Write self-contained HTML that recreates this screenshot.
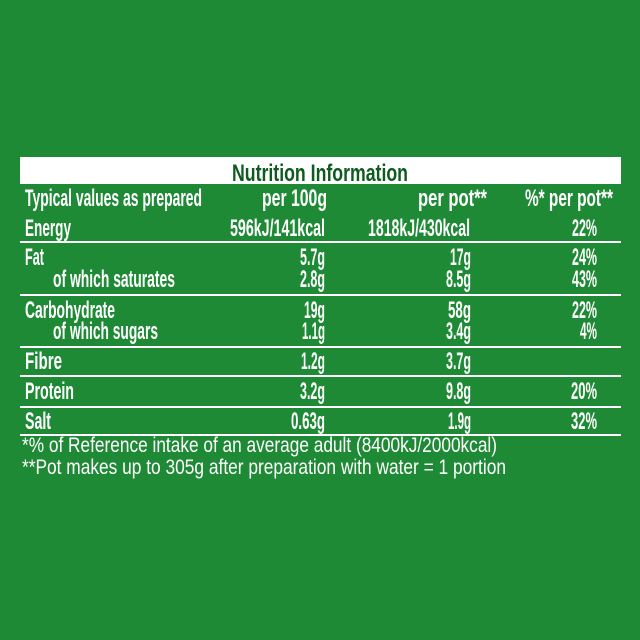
<!DOCTYPE html>
<html><head><meta charset="utf-8"><style>
html,body{margin:0;padding:0;background:#1f8a36;}
svg{display:block}
text{font-family:"Liberation Sans",sans-serif;fill:#fff;font-weight:bold;font-size:24px}
.n{font-weight:normal;font-size:21px}
</style></head><body>
<svg width="640" height="640" viewBox="0 0 640 640">
<rect width="640" height="640" fill="#1f8a36"/>
<rect x="20" y="157" width="601" height="27" fill="#fff"/>
<text x="232" y="181" textLength="176" lengthAdjust="spacingAndGlyphs" style="fill:#0f5a20">Nutrition Information</text>
<g fill="#fff">
<rect x="20" y="241" width="601" height="2"/>
<rect x="20" y="294" width="601" height="2"/>
<rect x="20" y="346" width="601" height="2"/>
<rect x="20" y="375" width="601" height="2"/>
<rect x="20" y="406" width="601" height="2"/>
<rect x="20" y="434" width="601" height="2"/>
</g>
<text x="25" y="206" textLength="177" lengthAdjust="spacingAndGlyphs">Typical values as prepared</text>
<text x="262" y="206" textLength="65" lengthAdjust="spacingAndGlyphs">per 100g</text>
<text x="418" y="206" textLength="69" lengthAdjust="spacingAndGlyphs">per pot**</text>
<text x="525" y="206" textLength="88" lengthAdjust="spacingAndGlyphs">%* per pot**</text>

<text x="25" y="236" textLength="46" lengthAdjust="spacingAndGlyphs">Energy</text>
<text x="230" y="236" textLength="95" lengthAdjust="spacingAndGlyphs">596kJ/141kcal</text>
<text x="368" y="236" textLength="102" lengthAdjust="spacingAndGlyphs">1818kJ/430kcal</text>
<text x="572" y="236" textLength="25" lengthAdjust="spacingAndGlyphs">22%</text>

<text x="25" y="265" textLength="19" lengthAdjust="spacingAndGlyphs">Fat</text>
<text x="300" y="265" textLength="25" lengthAdjust="spacingAndGlyphs">5.7g</text>
<text x="450" y="265" textLength="21" lengthAdjust="spacingAndGlyphs">17g</text>
<text x="572" y="265" textLength="25" lengthAdjust="spacingAndGlyphs">24%</text>
<text x="53" y="287" textLength="122" lengthAdjust="spacingAndGlyphs">of which saturates</text>
<text x="300" y="287" textLength="25" lengthAdjust="spacingAndGlyphs">2.8g</text>
<text x="446" y="287" textLength="25" lengthAdjust="spacingAndGlyphs">8.5g</text>
<text x="572" y="287" textLength="25" lengthAdjust="spacingAndGlyphs">43%</text>

<text x="25" y="318" textLength="90" lengthAdjust="spacingAndGlyphs">Carbohydrate</text>
<text x="304" y="318" textLength="21" lengthAdjust="spacingAndGlyphs">19g</text>
<text x="448" y="318" textLength="23" lengthAdjust="spacingAndGlyphs">58g</text>
<text x="572" y="318" textLength="25" lengthAdjust="spacingAndGlyphs">22%</text>
<text x="53" y="339" textLength="105" lengthAdjust="spacingAndGlyphs">of which sugars</text>
<text x="302" y="339" textLength="23" lengthAdjust="spacingAndGlyphs">1.1g</text>
<text x="446" y="339" textLength="25" lengthAdjust="spacingAndGlyphs">3.4g</text>
<text x="580" y="339" textLength="17" lengthAdjust="spacingAndGlyphs">4%</text>

<text x="25" y="369" textLength="37" lengthAdjust="spacingAndGlyphs">Fibre</text>
<text x="301" y="369" textLength="24" lengthAdjust="spacingAndGlyphs">1.2g</text>
<text x="446" y="369" textLength="25" lengthAdjust="spacingAndGlyphs">3.7g</text>

<text x="25" y="399" textLength="49" lengthAdjust="spacingAndGlyphs">Protein</text>
<text x="300" y="399" textLength="25" lengthAdjust="spacingAndGlyphs">3.2g</text>
<text x="446" y="399" textLength="25" lengthAdjust="spacingAndGlyphs">9.8g</text>
<text x="571" y="399" textLength="26" lengthAdjust="spacingAndGlyphs">20%</text>

<text x="25" y="429" textLength="26" lengthAdjust="spacingAndGlyphs">Salt</text>
<text x="291" y="429" textLength="34" lengthAdjust="spacingAndGlyphs">0.63g</text>
<text x="448" y="429" textLength="23" lengthAdjust="spacingAndGlyphs">1.9g</text>
<text x="571" y="429" textLength="26" lengthAdjust="spacingAndGlyphs">32%</text>

<text class="n" x="22" y="452" textLength="475" lengthAdjust="spacingAndGlyphs">*% of Reference intake of an average adult (8400kJ/2000kcal)</text>
<text class="n" x="22" y="474" textLength="484" lengthAdjust="spacingAndGlyphs">**Pot makes up to 305g after preparation with water = 1 portion</text>
</svg>
</body></html>
